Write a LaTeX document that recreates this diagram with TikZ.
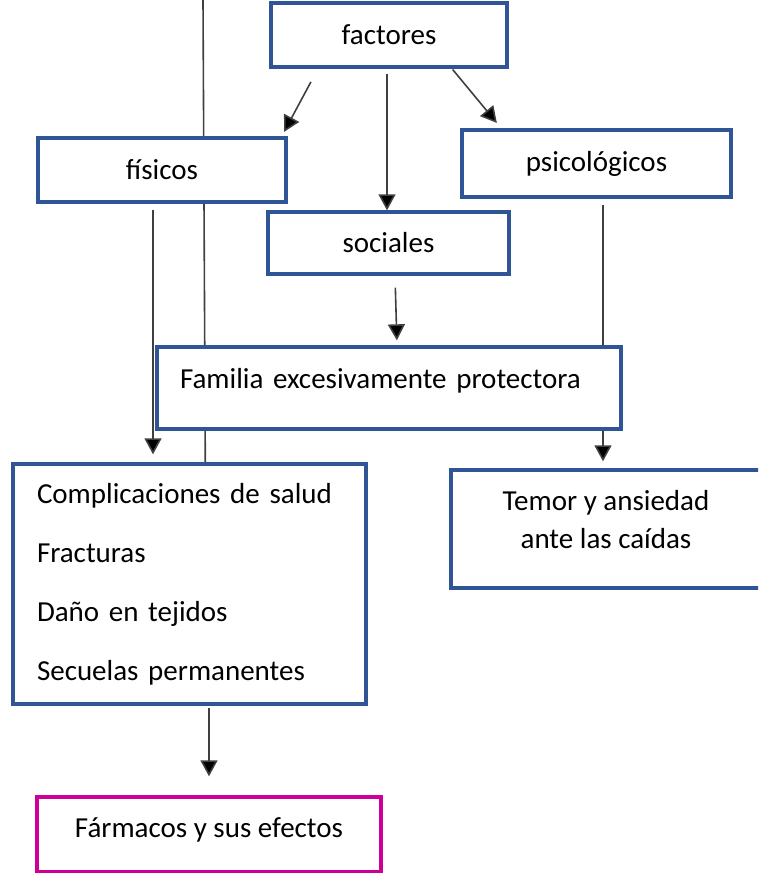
\documentclass[tikz,border=0pt]{standalone}
\usepackage{fontspec}
\setmainfont{Carlito}
\usetikzlibrary{arrows.meta,backgrounds}

\definecolor{boxblue}{HTML}{2F5597}
\definecolor{boxpink}{HTML}{CC0099}
\definecolor{linegray}{HTML}{404040}

\tikzset{
    caja/.style={draw=boxblue, line width=3.4pt, fill=white, inner sep=0pt,
        font=\fontsize{29}{38}\selectfont},
    flecha/.style={draw=linegray, line width=1.6pt, -{Triangle[width=17pt,length=16pt,fill=black]}},
    linea/.style={draw=linegray, line width=1.6pt}
}

\begin{document}
\begin{tikzpicture}[x=1pt,y=-1pt]
    \useasboundingbox (0,0) rectangle (758,873);
    \clip (0,0) rectangle (758,873);

    \node[caja, minimum width=236pt, minimum height=64pt] (fact) at (389,35) {factores};
    \node[caja, minimum width=248pt, minimum height=64pt] (fis) at (162,170) {físicos};
    \node[caja, minimum width=269pt, minimum height=67pt] (psi) at (596.5,163.5) {psicológicos};
    \node[caja, minimum width=241pt, minimum height=62pt] (soc) at (388.5,243) {sociales};
    \node[caja, minimum width=464pt, minimum height=82pt, text width=418pt, align=left,
        text depth=19pt] (fam) at (389,388) {Familia excesivamente protectora};
    \node[caja, minimum width=353pt, minimum height=240pt, text width=305pt, align=left,
        font=\fontsize{29}{59}\selectfont] (comp) at (189.5,584)
        {Complicaciones de salud\\Fracturas\\Daño en tejidos\\Secuelas permanentes};
    \node[caja, minimum width=310pt, minimum height=118pt, align=center,
        text depth=20pt] (tem) at (606,529) {Temor y ansiedad\\ante las caídas};
    \node[caja, draw=boxpink, minimum width=344pt, minimum height=75pt,
        text depth=14pt] (farm) at (209,834.5) {Fármacos y sus efectos};

    \coordinate (arriba) at (203,0);

    % conectores, detras de las cajas
    \begin{scope}[on background layer]
        \draw[linea] (arriba) -- ([xshift=194pt]comp.north west);
        \draw[flecha, shorten <=15pt, shorten >=5pt] ([xshift=-71pt]fact.south) -- ([xshift=-6pt]fis.north east);
        \draw[flecha, shorten <=5pt] ([xshift=-2pt]fact.south) -- ([xshift=-2pt]fact.south |- soc.north);
        \draw[flecha, shorten <=1pt, shorten >=7pt] ([xshift=63pt]fact.south) -- ([xshift=41pt]psi.north west);
        \draw[flecha, shorten <=12pt, shorten >=5pt] ([xshift=6.5pt]soc.south) -- ([xshift=8pt]fam.north);
        \draw[flecha, shorten <=6pt, shorten >=8pt] ([xshift=-9pt]fis.south) -- ([xshift=-9pt]fis.south |- comp.north);
        \draw[flecha, shorten <=6pt, shorten >=7pt] ([xshift=6.5pt]psi.south) -- ([xshift=6.5pt]psi.south |- tem.north);
        \draw[flecha, shorten <=2pt, shorten >=19pt] ([xshift=19.5pt]comp.south) -- ([xshift=19.5pt]comp.south |- farm.north);
    \end{scope}

\end{tikzpicture}
\end{document}
